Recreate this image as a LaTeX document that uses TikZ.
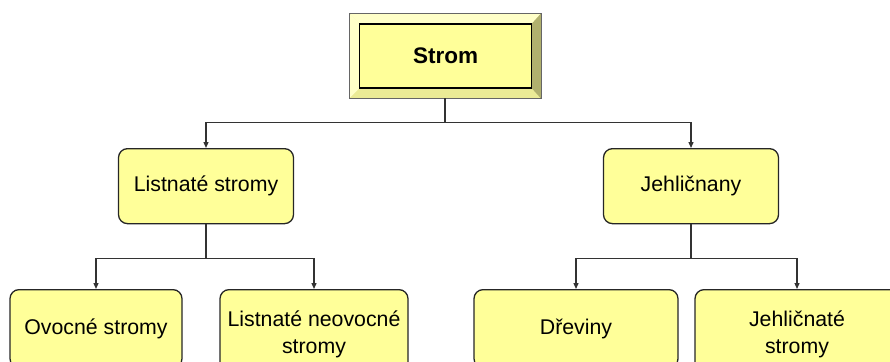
\documentclass[tikz,border=0pt]{standalone}
\usepackage{fontspec}
\setmainfont{Liberation Sans}
\usetikzlibrary{arrows.meta}
\definecolor{box fill}{RGB}{255,255,153}
\definecolor{rim light}{RGB}{255,255,200}
\definecolor{rim low}{RGB}{235,235,150}
\definecolor{rim dark}{RGB}{176,176,110}
\colorlet{box edge}{black!85}
\tikzset{
  treebox/.style={draw=box edge, fill=box fill, line width=1.3pt, rounded corners=9pt,
    align=center, inner sep=2pt, font=\fontsize{21.3}{27}\selectfont},
  rootrim/.style={draw=black!60, fill=rim low, line width=0.8pt, minimum width=191pt, minimum height=84pt},
  rootface/.style={draw=black, fill=box fill, line width=1.5pt, minimum width=172pt, minimum height=64pt,
    font=\fontsize{22.5}{26}\selectfont\bfseries}
  }
\tikzstyle{link} = [draw, line width=1.3pt, black!80, -{Triangle[length=6pt,width=5pt]}]
\def\treenodes{{(206,148)/listnate/175/75/{Listnaté stromy}}, {(691,148)/jehlicnany/175/75/{Jehličnany}},
  {(96,289)/ovocne/172/78/{Ovocné stromy}}, {(314,289)/neovocne/188/90/{Listnaté neovocné\\stromy}},
  {(576,289)/dreviny/204/78/{Dřeviny}}, {(797,289)/jehlicnate/204/90/{Jehličnaté\\stromy}}}

\begin{document}
\begin{tikzpicture}[x=1pt, y=-1pt]
    \useasboundingbox (0,0) rectangle (890,361);
    \clip (0,0) rectangle (890,361);

    % The root with its bevelled rim
    \node[rootrim] (strom) at (445,56) {};
    \fill[rim light] (strom.north west) -- (strom.north east) -- ([shift={(-9pt,-10pt)}]strom.north east)
      -- ([shift={(10pt,-10pt)}]strom.north west) -- cycle;
    \fill[rim light] (strom.north west) -- ([shift={(10pt,-10pt)}]strom.north west)
      -- ([shift={(10pt,10pt)}]strom.south west) -- (strom.south west) -- cycle;
    \fill[rim dark] (strom.north east) -- ([shift={(-9pt,-10pt)}]strom.north east)
      -- ([shift={(-9pt,10pt)}]strom.south east) -- (strom.south east) -- cycle;
    \draw[black!60, line width=0.8pt] (strom.north west) rectangle (strom.south east);
    \node[rootface] (stromface) at ([xshift=0.5pt]strom.center) {Strom};

    % The other boxes, placed by their top edge
    \foreach \pos/\name/\boxw/\boxh/\boxtext in \treenodes
      \node[treebox, anchor=north, minimum width=\boxw pt, minimum height=\boxh pt] (\name) at \pos {\boxtext};

    % The connections between them
    \foreach \source/\sink/\drop in {strom/listnate/24, strom/jehlicnany/24, listnate/ovocne/34,
      listnate/neovocne/34, jehlicnany/dreviny/34, jehlicnany/jehlicnate/34}
      \path[link] (\source.south) -- ++(0,-\drop pt) -| (\sink.north);
\end{tikzpicture}
\end{document}
